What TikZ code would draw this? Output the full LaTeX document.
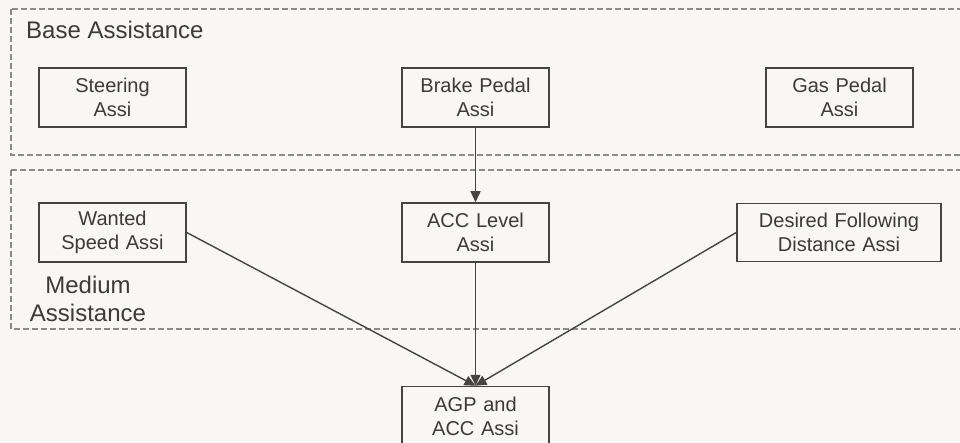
\documentclass[tikz,border=0pt]{standalone}
\usepackage{fontspec}
\setmainfont{Liberation Sans}
\usepackage{tikz}
\usetikzlibrary{shapes,arrows.meta}
\definecolor{bggray}{HTML}{F8F7F5}
\definecolor{linegray}{HTML}{484343}
\definecolor{dashgray}{HTML}{8E8984}
\definecolor{textgray}{HTML}{3C3A3A}

\begin{document}
\begin{tikzpicture}[x=1pt, y=1pt, node distance=363pt, auto]
        \tikzstyle{block} = [rectangle, draw=linegray, line width=1.5pt, fill=bggray, text=textgray, text width=145pt, text centered, minimum width=147pt, minimum height=59pt, inner sep=0pt, font=\fontsize{20}{24}\selectfont]
        \tikzstyle{title} = [text=textgray, inner sep=0pt, font=\fontsize{24}{28}\selectfont]
        \tikzstyle{region} = [draw=dashgray, line width=1.2pt, dash pattern=on 6pt off 3pt]
        \tikzstyle{line} = [draw=linegray, line width=1.4pt, -{Triangle[length=11pt,width=10pt]}]

    \fill [bggray] (0,0) rectangle (960,-443);
    \useasboundingbox (0,0) rectangle (960,-443);

    % assistance levels
    \draw [region] (11,-9) rectangle (980,-155);
    \draw [region] (11,-170) rectangle (980,-329);
    \node [title, anchor=west] (base title) at (26,-30) {Base Assistance};
    \node [title, align=center] (medium title) at (88,-299) {Medium\\Assistance};

    \node [block] (steering) at (112.5,-97.5) {Steering\\Assi};
    \node [block, right of=steering] (brake pedal) {Brake Pedal\\Assi};
    \node [block, right of=brake pedal, node distance=364pt] (gas pedal) {Gas Pedal\\Assi};

    \node [block, below of=steering, node distance=135pt] (wanted speed) {Wanted\\Speed Assi};
    \node [block, below of=brake pedal, node distance=135pt] (acc level) {ACC Level\\Assi};
    \node [block, right of=acc level, node distance=363.5pt, text width=200pt, minimum width=204pt, minimum height=58pt] (following distance) {Desired Following\\Distance Assi};

    \node [block, below of=acc level, node distance=183.5pt] (agp acc) {AGP and\\ACC Assi};

    \path [line] (brake pedal) -- (acc level);
    \path [line] (acc level) -- (agp acc);
    \path [line] (wanted speed.east) -- (agp acc.north);
    \path [line] (following distance.west) -- (agp acc.north);
    \end{tikzpicture}
\end{document}
